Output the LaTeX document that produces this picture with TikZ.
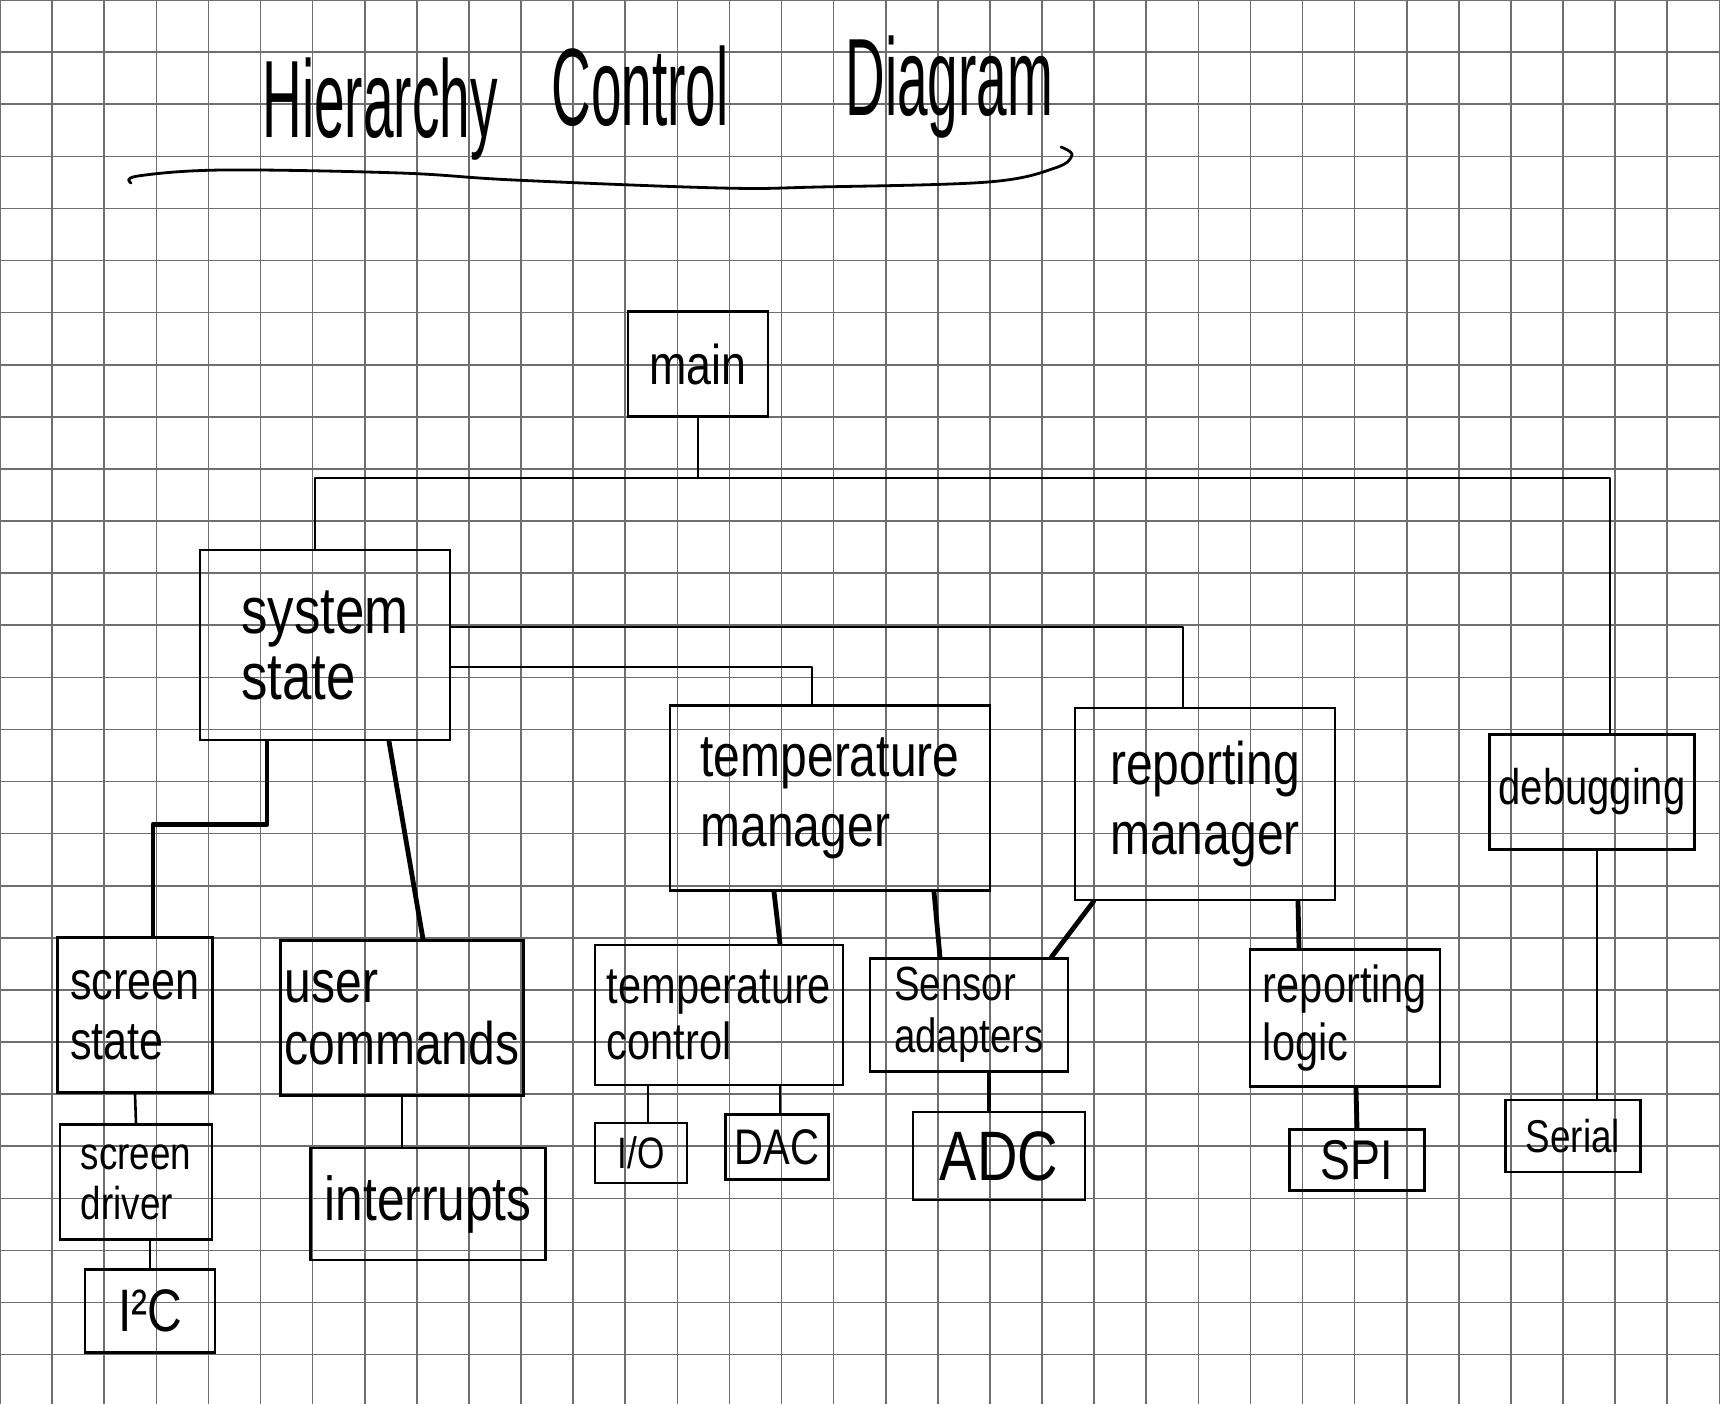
\documentclass[tikz,border=0pt]{standalone}
\usepackage{fontspec}
\setmainfont{Liberation Sans}[FakeStretch=0.8]
\newfontfamily\titlefont{Liberation Sans}[FakeStretch=0.5]
\usetikzlibrary{calc}
\definecolor{gridc}{RGB}{110,110,110}
\tikzset{
  box/.style={draw=black, line width=1.4pt, align=left, inner sep=2pt},
  lnk/.style={line width=1.3pt, line cap=round, line join=round},
  lnkb/.style={line width=2.4pt, line cap=round, line join=round},
  ttl/.style={anchor=base west, inner sep=0pt, font=\titlefont\fontsize{55}{60}\selectfont}
}
\begin{document}
\begin{tikzpicture}[x=0.5pt,y=-0.5pt]
\useasboundingbox (0,0) rectangle (1720,1404);
\fill[white] (0,0) rectangle (1720,1404);
% grid
\foreach \i in {0,...,33} { \draw[gridc, line width=0.8pt] (\i*52.1,0) -- (\i*52.1,1404); }
\foreach \j in {0,...,26} { \draw[gridc, line width=0.8pt] (0,\j*52.1) -- (1720,\j*52.1); }

% title
\node[ttl] (t1) at (262,137) {Hierarchy};
\node[ttl] (t2) at (551,125) {Control};
\node[ttl] (t3) at (845,115) {Diagram};
\draw[line width=1.4pt, line cap=round] plot[smooth, tension=0.6] coordinates
  {(131,183) (138,176) (223,170) (400,173) (514,180) (721,188) (818,187) (988,182) (1055,168) (1072,155) (1061,147)};

% nodes
\node[box, minimum width=70pt, minimum height=52.5pt, font=\fontsize{28}{32}\selectfont] (main) at (698,364) {main};
\node[box, minimum width=125pt, minimum height=95pt, font=\fontsize{33}{33}\selectfont] (ss) at (325,645) {system\\state};
\node[box, minimum width=160pt, minimum height=92.5pt, font=\fontsize{30}{35}\selectfont] (tm) at (830,798) {temperature\\manager};
\node[box, minimum width=130pt, minimum height=96pt, font=\fontsize{30}{35}\selectfont] (rm) at (1205,804) {reporting\\manager};
\node[box, minimum width=102.5pt, minimum height=57.5pt, font=\fontsize{25}{30}\selectfont] (dbg) at (1592,792) {debugging};
\node[box, minimum width=77.5pt, minimum height=77.5pt, font=\fontsize{27}{30}\selectfont] (scr) at (135,1015) {screen\\state};
\node[box, minimum width=112.5pt, minimum height=77.5pt, font=\fontsize{30}{31}\selectfont] (uc) at (402,1018) {user\\commands};
\node[box, minimum width=124pt, minimum height=70pt, font=\fontsize{26}{28}\selectfont] (tc) at (719,1015) {temperature\\control};
\node[box, minimum width=99pt, minimum height=56.5pt, font=\fontsize{24}{26}\selectfont] (sa) at (969,1015) {Sensor\\adapters};
\node[box, minimum width=95pt, minimum height=68.5pt, font=\fontsize{26}{29}\selectfont] (rl) at (1345,1018) {reporting\\logic};
\node[box, minimum width=76pt, minimum height=57.5pt, font=\fontsize{23}{25}\selectfont] (drv) at (136,1182) {screen\\driver};
\node[box, minimum width=65pt, minimum height=41.5pt, font=\fontsize{30}{32}\selectfont] (i2c) at (150,1311) {I²C};
\node[box, minimum width=117.5pt, minimum height=56pt, font=\fontsize{31}{34}\selectfont] (intr) at (428,1204) {interrupts};
\node[box, minimum width=46pt, minimum height=30pt, font=\fontsize{22}{26}\selectfont] (io) at (641,1153) {I/O};
\node[box, minimum width=51.5pt, minimum height=32.5pt, font=\fontsize{25}{28}\selectfont] (dac) at (777,1147) {DAC};
\node[box, minimum width=86pt, minimum height=44pt, font=\fontsize{35}{38}\selectfont] (adc) at (999,1156) {ADC};
\node[box, minimum width=67.5pt, minimum height=30.5pt, font=\fontsize{28}{30}\selectfont] (spi) at (1357,1160) {SPI};
\node[box, minimum width=67.5pt, minimum height=36pt, font=\fontsize{23}{26}\selectfont] (ser) at (1573,1136) {Serial};

% connectors
\coordinate (bus) at (698,478);
\draw[lnk] (main.south) -- (bus);
\draw[lnk] ($(ss.north)+(-10,0)$) |- (bus) -| ($(dbg.north)+(18,0)$);
\draw[lnk] ($(ss.east)+(0,22)$) -| ($(tm.north)+(-18,0)$);
\draw[lnk] ($(ss.east)+(0,-18)$) -| ($(rm.north)+(-22,0)$);
\draw[lnkb] ($(ss.south)+(-58,0)$) -- ++(0,83) -| ($(scr.north)+(18,0)$);
\draw[lnkb] ($(ss.south)+(64,0)$) -- ($(uc.north)+(21,0)$);
\draw[lnk] (scr.south) -- (drv.north);
\draw[lnk] (drv.south -| i2c.north) -- (i2c.north);
\draw[lnk] (uc.south) -- (uc.south |- intr.north);
\draw[lnkb] ($(tm.south)+(-56,0)$) -- ($(tc.north)+(61,0)$);
\draw[lnkb] ($(tm.south)+(104,0)$) -- ($(sa.north)+(-29,0)$);
\draw[lnkb] ($(rm.south west)+(20,0)$) -- ($(sa.north east)+(-18,0)$);
\draw[lnkb] ($(rm.south)+(93,0)$) -- ($(rl.north)+(-46,0)$);
\draw[lnk] ($(tc.south)+(-71,0)$) -- ($(io.north)+(7,0)$);
\draw[lnk] ($(tc.south)+(61,0)$) -- ($(dac.north)+(3,0)$);
\draw[lnkb] ($(sa.south)+(20,0)$) -- ($(adc.north)+(-10,0)$);
\draw[lnkb] ($(rl.south)+(11,0)$) -- (spi.north);
\draw[lnk] ($(dbg.south)+(5,0)$) -- ($(ser.north)+(24,0)$);
\end{tikzpicture}
\end{document}
